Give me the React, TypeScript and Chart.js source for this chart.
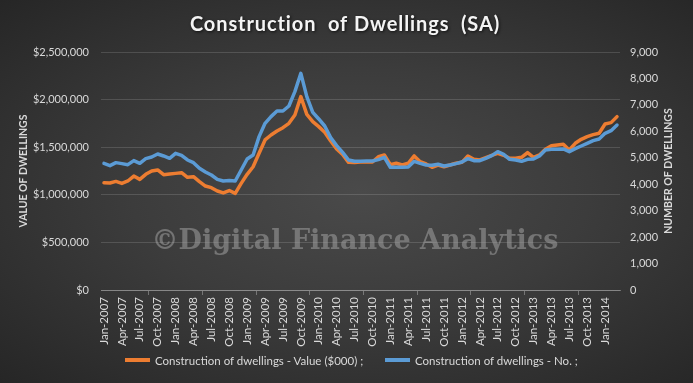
import React, { useEffect, useRef } from 'react';
import { Chart, registerables } from 'chart.js';

Chart.register(...registerables);

const MONTHS = ['Jan', 'Feb', 'Mar', 'Apr', 'May', 'Jun', 'Jul', 'Aug', 'Sep', 'Oct', 'Nov', 'Dec'];
const START_YEAR = 2007;
const MONTH_COUNT = 87; // Jan-2007 .. Mar-2014
const CATEGORIES: string[] = Array.from({ length: MONTH_COUNT }, (_, i) => `${MONTHS[i % 12]}-${START_YEAR + Math.floor(i / 12)}`);

const TITLE = 'Construction  of Dwellings  (SA)';
const LEFT_AXIS_TITLE = 'VALUE OF DWELLINGS';
const RIGHT_AXIS_TITLE = 'NUMBER OF DWELLINGS';
const WATERMARK = '\u00A9Digital Finance Analytics';
const SERIES_VALUE_LABEL = 'Construction of dwellings - Value ($000) ;';
const SERIES_NUMBER_LABEL = 'Construction of dwellings - No. ;';

// Construction of dwellings - Value ($000)
const VALUE_DATA = [
  1127000, 1124000, 1141000, 1120000, 1145000, 1197000, 1162000, 1215000, 1250000, 1261000, 1211000, 1218000,
  1225000, 1232000, 1184000, 1190000, 1138000, 1092000, 1075000, 1040000, 1020000, 1045000, 1015000, 1120000,
  1215000, 1295000, 1436000, 1576000, 1628000, 1670000, 1705000, 1751000, 1838000, 2031000, 1845000, 1768000,
  1716000, 1656000, 1565000, 1481000, 1425000, 1341000, 1340000, 1345000, 1348000, 1345000, 1400000, 1418000,
  1316000, 1331000, 1313000, 1331000, 1408000, 1348000, 1324000, 1289000, 1313000, 1295000, 1313000, 1331000,
  1341000, 1408000, 1373000, 1366000, 1390000, 1415000, 1436000, 1415000, 1383000, 1383000, 1394000, 1443000,
  1394000, 1418000, 1478000, 1516000, 1523000, 1530000, 1471000, 1541000, 1583000, 1611000, 1632000, 1646000,
  1744000, 1758000, 1821000,
];

// Construction of dwellings - No.
const NUMBER_DATA = [
  4791, 4703, 4816, 4778, 4740, 4892, 4791, 4967, 5030, 5144, 5068, 4980,
  5169, 5093, 4917, 4816, 4601, 4463, 4349, 4185, 4122, 4140, 4122, 4538,
  4954, 5106, 5799, 6303, 6556, 6770, 6770, 6959, 7501, 8194, 7312, 6720,
  6467, 6202, 5762, 5459, 5207, 4917, 4870, 4870, 4879, 4879, 4929, 5017,
  4639, 4639, 4639, 4652, 4866, 4790, 4728, 4715, 4753, 4690, 4728, 4778,
  4841, 4967, 4891, 4891, 4980, 5080, 5232, 5131, 4942, 4917, 4866, 4942,
  4954, 5068, 5295, 5320, 5320, 5333, 5232, 5345, 5446, 5547, 5648, 5711,
  5925, 6026, 6240,
];

const VALUE_AXIS = { min: 0, max: 2500000, step: 500000 };
const NUMBER_AXIS = { min: 0, max: 9000, step: 1000 };
const LABEL_EVERY = 3;

const ORANGE = '#ED7D31';
const BLUE = '#5B9BD5';
const TEXT = '#d9d9d9';
const GRID = 'rgba(255,255,255,0.14)';
const FONT = 'Lato, "Open Sans", sans-serif';

const overlayPlugin = {
  id: 'overlay',
  beforeDatasetsDraw(chart: any) {
    const { ctx } = chart;
    ctx.save();
    ctx.font = 'bold 27px "DejaVu Serif", serif';
    ctx.fillStyle = 'rgba(160,160,160,0.55)';
    ctx.textAlign = 'center';
    ctx.textBaseline = 'middle';
    ctx.fillText(WATERMARK, 355, 242);
    ctx.restore();
  },
  afterDraw(chart: any) {
    const { ctx, chartArea } = chart;
    const cy = (chartArea.top + chartArea.bottom) / 2;
    // title
    ctx.save();
    ctx.font = `bold 20px ${FONT}`;
    try { (ctx as any).letterSpacing = '0.9px'; } catch (e) { /* ignore */ }
    ctx.fillStyle = '#f4f4f4';
    ctx.shadowColor = 'rgba(0,0,0,0.7)';
    ctx.shadowBlur = 3;
    ctx.shadowOffsetX = 1;
    ctx.shadowOffsetY = 1;
    ctx.textAlign = 'center';
    ctx.textBaseline = 'middle';
    ctx.fillText(TITLE, 345, 25);
    ctx.restore();
    // axis titles
    for (const [text, x] of [[LEFT_AXIS_TITLE, 24], [RIGHT_AXIS_TITLE, 669]] as [string, number][]) {
      ctx.save();
      ctx.font = `bold 10.5px ${FONT}`;
      ctx.fillStyle = TEXT;
      ctx.textAlign = 'center';
      ctx.textBaseline = 'middle';
      ctx.translate(x, cy);
      ctx.rotate(-Math.PI / 2);
      ctx.fillText(text, 0, 0);
      ctx.restore();
    }
  },
};

export default function App() {
  const ref = useRef<HTMLCanvasElement>(null);

  useEffect(() => {
    document.body.style.margin = '0';
    const chart = new Chart(ref.current as HTMLCanvasElement, {
      type: 'line',
      data: {
        labels: CATEGORIES,
        datasets: [
          {
            label: SERIES_VALUE_LABEL,
            data: VALUE_DATA,
            yAxisID: 'y',
            borderColor: ORANGE,
            backgroundColor: ORANGE,
            borderWidth: 3.5,
            pointRadius: 0,
            tension: 0,
            borderJoinStyle: 'round',
            borderCapStyle: 'round',
            order: 1,
          },
          {
            label: SERIES_NUMBER_LABEL,
            data: NUMBER_DATA,
            yAxisID: 'y1',
            borderColor: BLUE,
            backgroundColor: BLUE,
            borderWidth: 3.5,
            pointRadius: 0,
            tension: 0,
            borderJoinStyle: 'round',
            borderCapStyle: 'round',
            order: 0,
          },
        ],
      },
      options: {
        responsive: false,
        animation: false,
        layout: { padding: { left: 0, right: 0, top: 52, bottom: 0 } },
        plugins: {
          legend: { display: false },
          tooltip: { enabled: false },
          title: { display: false },
        },
        scales: {
          x: {
            offset: true,
            ticks: {
              autoSkip: false,
              maxRotation: 90,
              minRotation: 90,
              color: TEXT,
              font: { family: FONT, size: 11.5 },
              padding: 2,
              callback: (_v: any, i: number) => (i % LABEL_EVERY === 0 ? CATEGORIES[i] : null),
            },
            grid: {
              offset: true,
              drawOnChartArea: false,
              tickLength: 5,
              color: (c: any) => (typeof c.index === 'number' && c.index % LABEL_EVERY === 0 ? 'rgba(255,255,255,0.3)' : 'rgba(0,0,0,0)'),
            },
            border: { display: true, color: 'rgba(255,255,255,0.3)' },
            afterFit: (s: any) => { s.height = 93; },
          },
          y: {
            position: 'left',
            min: VALUE_AXIS.min,
            max: VALUE_AXIS.max,
            ticks: {
              stepSize: VALUE_AXIS.step,
              color: TEXT,
              font: { family: FONT, size: 11 },
              padding: 12,
              callback: (v: any) => '$' + Number(v).toLocaleString('en-US'),
            },
            grid: { color: GRID, drawTicks: false },
            border: { display: false },
            afterFit: (s: any) => { s.width = 101; },
          },
          y1: {
            position: 'right',
            min: NUMBER_AXIS.min,
            max: NUMBER_AXIS.max,
            ticks: {
              stepSize: NUMBER_AXIS.step,
              color: TEXT,
              font: { family: FONT, size: 11 },
              padding: 10,
              callback: (v: any) => Number(v).toLocaleString('en-US'),
            },
            grid: { drawOnChartArea: false, drawTicks: false },
            border: { display: false },
            afterFit: (s: any) => { s.width = 73; },
          },
        },
      },
      plugins: [overlayPlugin],
    } as any);
    return () => chart.destroy();
  }, []);

  const legendText: React.CSSProperties = { fontFamily: FONT, fontSize: 11.5, color: TEXT, whiteSpace: 'nowrap' };
  const line = (color: string): React.CSSProperties => ({ display: 'inline-block', width: 25, height: 4, background: color, marginRight: 5, verticalAlign: 'middle' });

  return (
    <div
      style={{
        position: 'relative',
        width: 693,
        height: 383,
        overflow: 'hidden',
        background: 'radial-gradient(ellipse at 52% 50%, #4a4a4a 0%, #3c3c3c 45%, #262626 100%)',
      }}
    >
      <canvas ref={ref} width={693} height={383} style={{ display: 'block' }} />
      <div style={{ position: 'absolute', left: 125, top: 352, ...legendText }}>
        <span style={line(ORANGE)} />
        <span style={{ verticalAlign: 'middle' }}>{SERIES_VALUE_LABEL}</span>
      </div>
      <div style={{ position: 'absolute', left: 385, top: 352, ...legendText }}>
        <span style={line(BLUE)} />
        <span style={{ verticalAlign: 'middle' }}>{SERIES_NUMBER_LABEL}</span>
      </div>
    </div>
  );
}
